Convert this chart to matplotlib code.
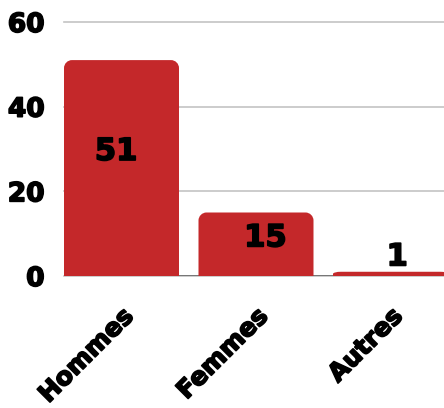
import matplotlib
matplotlib.use("Agg")
import matplotlib.pyplot as plt
from matplotlib.path import Path
from matplotlib.patches import PathPatch
import matplotlib.patheffects as pe

categories = ["Hommes", "Femmes", "Autres"]
values = [51, 15, 1]
yticks = [0, 20, 40, 60]
# label placement (data units)
label_y = [29.4, 9.0, 4.5]
label_dx = [-0.04, 0.07, 0.05]

BAR_COLOR = "#c4282a"
FONT = "DejaVu Sans"
heavy = [pe.withStroke(linewidth=1.2, foreground="black")]

W, H = 444, 408
fig = plt.figure(figsize=(W / 100, H / 100), dpi=100)
ax = fig.add_axes([64 / W, 132 / H, 380 / W, 254 / H])

bar_w = 0.855
xmin = -bar_w / 2
xmax = xmin + 380 / 134.5
ax.set_xlim(xmin, xmax)
ax.set_ylim(0, 60)

px_x = 134.5          # pixels per x unit
px_y = 254 / 60       # pixels per y unit
r_px = 8


def rounded_top_bar(x0, w, h):
    rx = r_px / px_x
    ry = min(r_px / px_y, h / 2)
    rx = min(rx, w / 2)
    k = 0.5523
    x1 = x0 + w
    verts = [
        (x0, 0), (x0, h - ry),
        (x0, h - ry + k * ry), (x0 + rx - k * rx, h), (x0 + rx, h),
        (x1 - rx, h),
        (x1 - rx + k * rx, h), (x1, h - ry + k * ry), (x1, h - ry),
        (x1, 0), (x0, 0),
    ]
    codes = [Path.MOVETO, Path.LINETO,
             Path.CURVE4, Path.CURVE4, Path.CURVE4,
             Path.LINETO,
             Path.CURVE4, Path.CURVE4, Path.CURVE4,
             Path.LINETO, Path.CLOSEPOLY]
    return PathPatch(Path(verts, codes), facecolor=BAR_COLOR, edgecolor="none", zorder=3)


for i, v in enumerate(values):
    ax.add_patch(rounded_top_bar(i - bar_w / 2, bar_w, v))
    ax.text(i + label_dx[i], label_y[i], str(v), ha="center", va="center",
            fontsize=22, fontweight="bold", family=FONT, color="black", zorder=4,
            path_effects=heavy)

ax.set_yticks(yticks)
ax.set_yticklabels([str(t) for t in yticks], fontsize=19, fontweight="bold", family=FONT)
ax.set_xticks(range(len(categories)))
ax.set_xticklabels(categories, rotation=45, ha="right", va="top", rotation_mode="anchor",
                   fontsize=18, fontweight="bold", family=FONT)
ax.tick_params(axis="y", length=0, pad=14)
ax.tick_params(axis="x", length=0, pad=20)
for lab in ax.get_xticklabels() + ax.get_yticklabels():
    lab.set_path_effects(heavy)

for s in ax.spines.values():
    s.set_visible(False)
ax.yaxis.grid(True, color="#c4c4c4", linewidth=1.2, zorder=0)
ax.set_axisbelow(True)
ax.axhline(0, color="#666666", linewidth=1.2, zorder=2)
for gl in ax.get_ygridlines():
    gl.set_clip_on(False)

fig.savefig("out.png", dpi=100)
